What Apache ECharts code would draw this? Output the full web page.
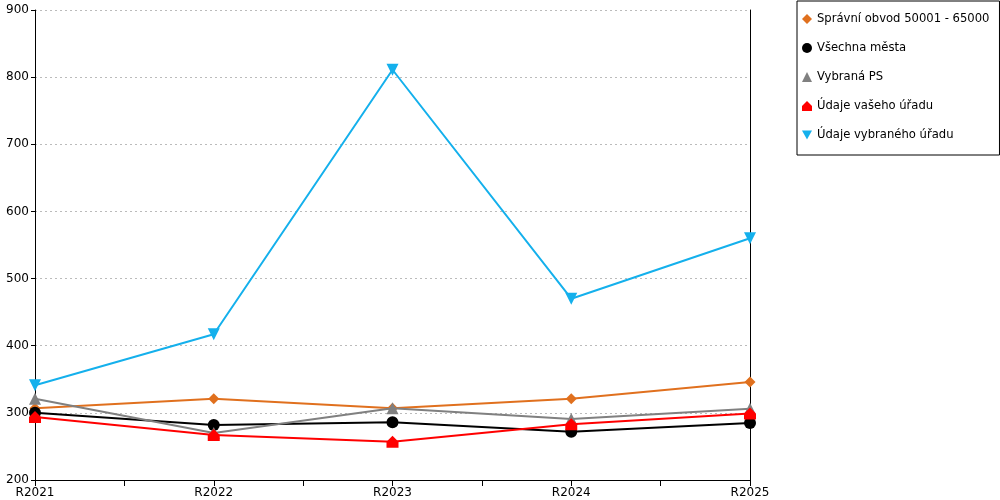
<!DOCTYPE html>
<html><head><meta charset="utf-8">
<script src="https://cdn.jsdelivr.net/npm/echarts@6/dist/echarts.min.js"></script>
<style>html,body{margin:0;padding:0;background:#fff}#c{width:1000px;height:500px}</style>
</head><body><div id="c"></div>
<script>
var categories = ['R2021','R2022','R2023','R2024','R2025'];
var spravni = [307, 321, 307, 321, 346];
var vsechna = [300, 282, 286, 272, 285];
var vybranaPS = [321, 270, 307, 291, 306];
var vaseho = [294, 267, 257, 283, 299];
var vybraneho = [341, 417, 811, 470, 560];
var names = ['Správní obvod 50001 - 65000','Všechna města','Vybraná PS','Údaje vašeho úřadu','Údaje vybraného úřadu'];
var colors = ['#e0701e','#000000','#808080','#ff0000','#14b0ec'];
var symbols = ['diamond','circle','triangle','path://M5,0 L10,5 L10,10 L0,10 L0,5 Z','path://M0,0 L10,0 L5,9 Z'];
var sizes = [11,12,12,12,12];
var allData = [spravni, vsechna, vybranaPS, vaseho, vybraneho];

function pts(arr){ return arr.map(function(v,i){ return [i, v]; }); }
var font = 'DejaVu Sans';
var series = allData.map(function(d, k){
  return {
    name: names[k], type: 'line', data: pts(d),
    symbol: symbols[k], symbolSize: sizes[k],
    itemStyle: {color: colors[k]},
    lineStyle: {color: colors[k], width: 2},
    animation: false, z: 2 + k
  };
});
var chart = echarts.init(document.getElementById('c'));
chart.setOption({
  animation: false,
  grid: {left: 35, right: 250, top: 10, bottom: 20},
  xAxis: {
    type: 'value', min: 0, max: 4, interval: 0.5,
    axisLine: {show: true, lineStyle: {color: '#000'}},
    axisTick: {show: true, inside: false, length: 6, lineStyle: {color: '#000'}},
    axisLabel: {color: '#000', fontFamily: font, fontSize: 12, margin: 7,
      formatter: function(v){ return (Math.abs(v - Math.round(v)) < 1e-6) ? categories[Math.round(v)] : ''; }},
    splitLine: {show: false}
  },
  yAxis: [{
    type: 'value', min: 200, max: 900, interval: 100,
    axisLine: {show: true, lineStyle: {color: '#000'}},
    axisTick: {show: true, length: 4, lineStyle: {color: '#000'}},
    axisLabel: {color: '#000', fontFamily: font, fontSize: 12, margin: 6},
    splitLine: {show: true, lineStyle: {color: '#bbb', type: [2,3], width: 1}}
  },{
    type: 'value', min: 200, max: 900, interval: 100, position: 'right',
    axisLine: {show: true, lineStyle: {color: '#000'}},
    axisTick: {show: false}, axisLabel: {show: false}, splitLine: {show: false}
  }],
  legend: {
    orient: 'vertical', left: 797, top: 1,
    padding: [12, 10, 14, 5], itemGap: 17, itemWidth: 10, itemHeight: 10,
    borderColor: '#000', borderWidth: 1,
    textStyle: {color: '#000', fontFamily: font, fontSize: 11.6},
    data: names.map(function(n,k){ return {name: n, icon: symbols[k], itemStyle: {color: colors[k]}}; })
  },
  series: series
});
</script></body></html>
